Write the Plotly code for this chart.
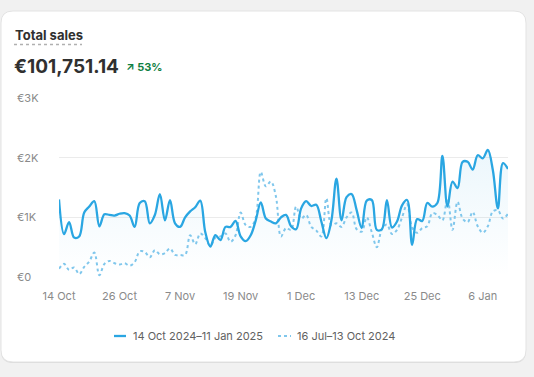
import pandas as pd
import plotly.graph_objects as go

# ---------------- data ----------------
current_label = "14 Oct 2024–11 Jan 2025"
previous_label = "16 Jul–13 Oct 2024"
dates = pd.date_range("2024-10-14", "2025-01-11", freq="D")

current_sales = [
    1300, 720, 920, 660, 680, 1080, 1180, 1270, 850, 1050,
    1040, 1030, 1060, 1070, 1030, 840, 1240, 1270, 900, 1040,
    1390, 950, 1290, 900, 840, 1000, 1100, 1170, 1280, 750,
    510, 700, 620, 840, 840, 940, 680, 600, 700, 950,
    1250, 980, 930, 900, 1000, 1040, 850, 800, 1150, 1270,
    1190, 1210, 930, 650, 950, 1650, 950, 1340, 1390, 1120,
    820, 1280, 1290, 790, 800, 1290, 830, 930, 1200, 1290,
    540, 970, 940, 1240, 1180, 1240, 2030, 1180, 1600, 1490,
    1930, 1930, 1800, 2040, 1990, 2130, 1790, 1150, 1910, 1810,
]
previous_sales = [
    140, 220, 120, 160, 50, 170, 260, 410, 30, 220,
    270, 230, 210, 230, 190, 250, 430, 420, 330, 450,
    380, 400, 480, 370, 370, 370, 700, 550, 730, 650,
    520, 660, 680, 730, 590, 700, 1080, 870, 840, 1000,
    1760, 1520, 1600, 1350, 680, 820, 790, 1180, 980, 1040,
    840, 780, 680, 1320, 870, 900, 840, 1000, 1080, 800,
    760, 1000, 750, 500, 800, 880, 720, 790, 1000, 1220,
    830, 740, 820, 850, 1070, 1040, 950, 1320, 790, 1260,
    980, 920, 1090, 850, 740, 850, 1100, 1120, 980, 1060,
]
y_tick_values = [0, 1000, 2000, 3000]
y_tick_labels = ["€0", "€1K", "€2K", "€3K"]
x_tick_dates = ["2024-10-14", "2024-10-26", "2024-11-07", "2024-11-19",
                "2024-12-01", "2024-12-13", "2024-12-25", "2025-01-06"]
title_text = "Total sales"
total_text = "€101,751.14"
change_text = "53%"

# ---------------- layout geometry ----------------
W, H = 534, 377
ML, MR, MT, MB = 59, 26, 98, 100
PW, PH = W - ML - MR, H - MT - MB

def px_x(x):
    return (x - ML) / PW

def px_y(y):
    return (H - MB - y) / PH

def rounded_rect(x0, y0, x1, y1, r):
    def P(x, y):
        return f"{px_x(x):.5f},{px_y(y):.5f}"
    return (f"M {P(x0 + r, y0)} L {P(x1 - r, y0)} Q {P(x1, y0)} {P(x1, y0 + r)} "
            f"L {P(x1, y1 - r)} Q {P(x1, y1)} {P(x1 - r, y1)} "
            f"L {P(x0 + r, y1)} Q {P(x0, y1)} {P(x0, y1 - r)} "
            f"L {P(x0, y0 + r)} Q {P(x0, y0)} {P(x0 + r, y0)} Z")

BLUE = "#2aa6e2"
LIGHT_BLUE = "#80c7ec"
FONT = "Inter, 'Noto Sans', sans-serif"
SMOOTH = 1.0

fig = go.Figure()

# area under current period
fig.add_trace(go.Scatter(
    x=dates, y=current_sales, mode="lines",
    line=dict(width=0, shape="spline", smoothing=SMOOTH),
    fill="tozeroy",
    fillgradient=dict(type="vertical",
                      colorscale=[[0, "rgba(41,163,224,0.0)"],
                                  [1, "rgba(41,163,224,0.09)"]]),
    showlegend=False, hoverinfo="skip",
))
# previous period dotted line
fig.add_trace(go.Scatter(
    x=dates, y=previous_sales, mode="lines", name=previous_label,
    line=dict(color=LIGHT_BLUE, width=2, dash="dot", shape="spline", smoothing=SMOOTH),
    showlegend=False,
))
# current period line
fig.add_trace(go.Scatter(
    x=dates, y=current_sales, mode="lines", name=current_label,
    line=dict(color=BLUE, width=2.3, shape="spline", smoothing=SMOOTH),
    showlegend=False,
))

shapes = [
    dict(type="path", xref="paper", yref="paper", layer="below",
         path=rounded_rect(1, 12, 526, 363, 12),
         fillcolor="#dadada", line=dict(width=0)),
    dict(type="path", xref="paper", yref="paper", layer="below",
         path=rounded_rect(1, 11, 526, 362, 12),
         fillcolor="#ffffff", line=dict(color="#e3e3e3", width=1)),
    dict(type="line", xref="paper", yref="paper",
         x0=px_x(14), x1=px_x(82), y0=px_y(44.5), y1=px_y(44.5),
         line=dict(color="#b0b0b0", width=1.5, dash="dot")),
    # legend keys
    dict(type="line", xref="paper", yref="paper",
         x0=px_x(114), x1=px_x(126), y0=px_y(336), y1=px_y(336),
         line=dict(color=BLUE, width=2.3)),
    dict(type="line", xref="paper", yref="paper",
         x0=px_x(278), x1=px_x(291), y0=px_y(336), y1=px_y(336),
         line=dict(color=LIGHT_BLUE, width=2, dash="dot")),
]

annotations = [
    dict(text=f"<b>{title_text}</b>", xref="paper", yref="paper",
         x=px_x(13), y=px_y(35), xanchor="left", yanchor="middle",
         showarrow=False, font=dict(family=FONT, size=13, color="#303030")),
    dict(text=f"<b>{total_text}</b>", xref="paper", yref="paper",
         x=px_x(12), y=px_y(66), xanchor="left", yanchor="middle",
         showarrow=False, font=dict(family=FONT, size=19, color="#303030")),
    dict(text=f"<b>↗ {change_text}</b>", xref="paper", yref="paper",
         x=px_x(124), y=px_y(67), xanchor="left", yanchor="middle",
         showarrow=False, font=dict(family=FONT, size=11, color="#108043")),
    dict(text=current_label, xref="paper", yref="paper",
         x=px_x(131), y=px_y(336), xanchor="left", yanchor="middle",
         showarrow=False, font=dict(family=FONT, size=11, color="#616161")),
    dict(text=previous_label, xref="paper", yref="paper",
         x=px_x(295), y=px_y(336), xanchor="left", yanchor="middle",
         showarrow=False, font=dict(family=FONT, size=11, color="#616161")),
]
for v, lab in zip(y_tick_values, y_tick_labels):
    annotations.append(dict(
        text=lab, xref="paper", yref="y", x=px_x(15), y=v,
        xanchor="left", yanchor="middle", showarrow=False,
        font=dict(family=FONT, size=11, color="#8a8a8a")))

fig.update_layout(
    width=W, height=H,
    margin=dict(l=ML, r=MR, t=MT, b=MB),
    paper_bgcolor="#f1f1f1", plot_bgcolor="rgba(0,0,0,0)",
    font=dict(family=FONT, size=11, color="#8a8a8a"),
    shapes=shapes, annotations=annotations,
    showlegend=False,
    xaxis=dict(type="date", range=[dates[0], dates[-1]],
               tickvals=x_tick_dates, tickformat="%-d %b",
               showgrid=False, zeroline=False, showline=False,
               ticks="", ticklen=0, ticklabelstandoff=11,
               tickfont=dict(family=FONT, size=11, color="#8a8a8a")),
    yaxis=dict(range=[0, 3000], tickvals=y_tick_values, showticklabels=False,
               showgrid=True, gridcolor="#ebebeb", gridwidth=1,
               zeroline=False, showline=False, ticks=""),
    hovermode=False,
)

fig.write_html("out.html", config={"displayModeBar": False},
               post_script="document.body.style.margin='0';document.body.style.overflow='hidden';")
